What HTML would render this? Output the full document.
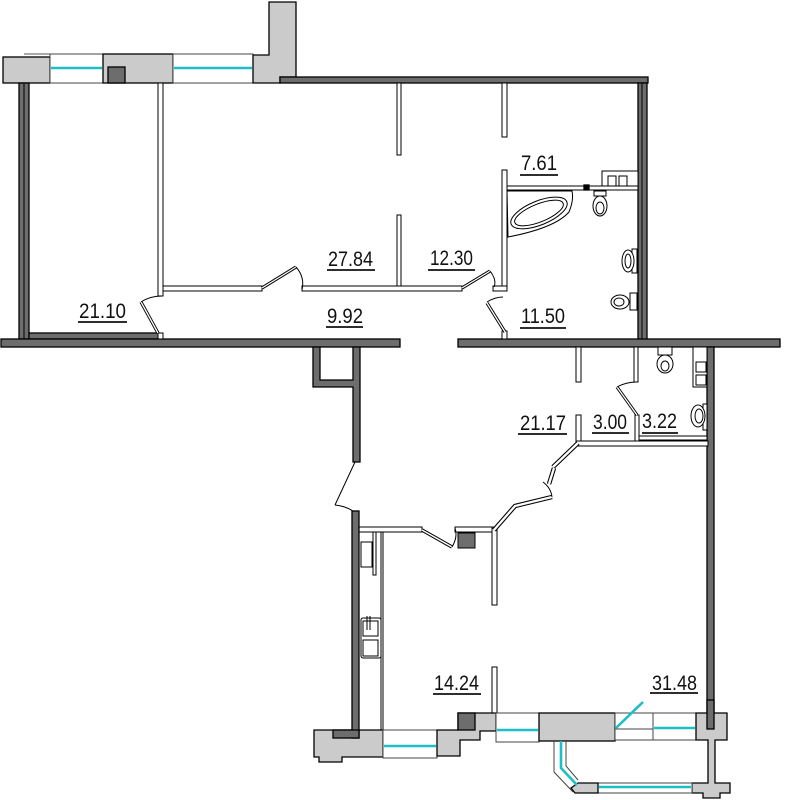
<!DOCTYPE html>
<html><head><meta charset="utf-8"><style>
html,body{margin:0;padding:0;background:#fff;}
svg{display:block;}
text{font-family:"Liberation Sans",sans-serif;font-size:21px;fill:#111;}
</style></head><body>
<svg width="785" height="800" viewBox="0 0 785 800" xmlns="http://www.w3.org/2000/svg">
<g stroke="#000" stroke-width="1.3">
<!-- top facade -->
<line x1="24" y1="54" x2="50" y2="54" stroke="#555" stroke-width="1"/>
<rect x="3" y="57" width="47" height="26" fill="#cbcbcb"/>
<rect x="50" y="54" width="53" height="29" fill="#fff" stroke="#444" stroke-width="1"/>
<rect x="103" y="54" width="70" height="29" fill="#cbcbcb"/>
<rect x="108" y="67" width="17" height="16" fill="#6d6d6d"/>
<rect x="173" y="54" width="80" height="29" fill="#fff" stroke="#444" stroke-width="1"/>
<polygon points="253,55 269,55 269,2 296,2 296,77 280,77 280,83 253,83" fill="#cbcbcb"/>
<!-- outer walls -->
<rect x="280" y="77" width="368" height="6" fill="#6d6d6d"/>
<rect x="638" y="83" width="9" height="257" fill="#6d6d6d"/>
<line x1="642" y1="83" x2="642" y2="340" stroke-width="1"/>
<rect x="19" y="83" width="10" height="256" fill="#6d6d6d"/>
<line x1="24" y1="83" x2="24" y2="339" stroke-width="1"/>
<rect x="29" y="333" width="130" height="6" fill="#6d6d6d"/>
<rect x="1" y="339" width="399" height="8" fill="#6d6d6d"/>
<rect x="458" y="339" width="322" height="8" fill="#6d6d6d"/>
<!-- upper partitions -->
<g fill="#fff" stroke-width="1">
<rect x="158" y="83" width="5" height="213"/>
<rect x="163" y="286" width="99" height="5"/>
<rect x="302" y="286" width="160" height="5"/>
<rect x="397" y="83" width="4" height="72"/>
<rect x="397" y="215" width="4" height="71"/>
<rect x="502" y="83" width="5" height="54"/>
<rect x="502" y="170" width="5" height="116"/>
<rect x="493" y="286" width="14" height="5"/>
<rect x="502" y="331" width="5" height="8"/>
<rect x="507" y="186" width="131" height="4"/>
<rect x="158" y="333" width="5" height="6"/>
</g>
<rect x="584" y="185" width="5" height="5" fill="#000"/>
</g>
<!-- doors upper -->
<g fill="none" stroke="#000">
<line x1="141" y1="302" x2="158" y2="333" stroke-width="3.2"/>
<line x1="141" y1="302" x2="158" y2="333" stroke="#fff" stroke-width="1.3"/>
<path d="M141,302 Q150,296 162,296" stroke-width="1"/>
<line x1="262" y1="288" x2="296" y2="267" stroke-width="3.2"/>
<line x1="262" y1="288" x2="296" y2="267" stroke="#fff" stroke-width="1.3"/>
<path d="M296,267 Q305,277 302,290" stroke-width="1"/>
<line x1="462" y1="288" x2="490" y2="271" stroke-width="3.2"/>
<line x1="462" y1="288" x2="490" y2="271" stroke="#fff" stroke-width="1.3"/>
<path d="M490,271 Q497,280 494,287" stroke-width="1"/>
<line x1="487" y1="303" x2="505" y2="332" stroke-width="3.2"/>
<line x1="487" y1="303" x2="505" y2="332" stroke="#fff" stroke-width="1.3"/>
<path d="M487,302 Q495,297 503,297" stroke-width="1"/>
</g>
<!-- bathroom fixtures -->
<g fill="#fff" stroke="#000" stroke-width="1">
<rect x="602" y="171" width="36" height="15"/>
<rect x="608" y="176" width="8" height="10"/>
<rect x="619" y="176" width="8" height="10"/>
<path d="M507,191 L572,191 Q574,200 569,212 Q555,228 508,237 Z"/>
<ellipse cx="539" cy="213" rx="30" ry="12" transform="rotate(-22 539 213)"/>
<ellipse cx="539" cy="213" rx="26" ry="9" transform="rotate(-22 539 213)"/>
<rect x="594" y="191" width="12" height="5"/>
<ellipse cx="600" cy="206" rx="7" ry="10"/>
<ellipse cx="600" cy="208" rx="4" ry="6"/>
<rect x="632" y="249" width="5" height="24"/>
<ellipse cx="628" cy="261" rx="6" ry="11"/>
<ellipse cx="628" cy="261" rx="3" ry="7"/>
<rect x="630" y="293" width="7" height="17"/>
<ellipse cx="620" cy="302" rx="9" ry="7"/>
<ellipse cx="619" cy="302" rx="5" ry="4"/>
</g>
<!-- lower: shaft & left wall -->
<g stroke="#000" stroke-width="1.3" fill="#6d6d6d">
<polygon points="313,347 320,347 320,380 353,380 353,347 360,347 360,462 353,462 353,387 313,387"/>
<rect x="707" y="347" width="7" height="366"/>
</g>
<g fill="none" stroke="#000">
<line x1="355" y1="462" x2="335" y2="505" stroke-width="1"/>
<path d="M335,505 Q345,506 353,511" stroke-width="1"/>
</g>
<!-- lower partitions -->
<g fill="#fff" stroke="#000" stroke-width="1">
<rect x="359" y="527" width="63" height="5"/>
<rect x="455" y="527" width="37" height="5"/>
<rect x="492" y="527" width="5" height="78"/>
<rect x="492" y="667" width="5" height="46"/>
<rect x="576" y="347" width="5" height="35"/>
<rect x="576" y="415" width="5" height="28"/>
<rect x="576" y="441" width="132" height="5"/>
<rect x="638" y="436" width="69" height="4"/>
<rect x="634" y="347" width="4" height="35"/>
<rect x="635" y="415" width="4" height="26"/>
<rect x="381" y="532" width="2" height="198"/>
</g>
<rect x="458" y="533" width="17" height="15" fill="#6d6d6d" stroke="#000" stroke-width="1"/>
<g fill="none" stroke="#000">
<polyline points="494,530 515,506 552,497" stroke-width="4.5"/>
<polyline points="494,530 515,506 552,497" stroke="#fff" stroke-width="2.3"/>
<line x1="578" y1="443" x2="553" y2="467" stroke-width="4.5"/>
<line x1="578" y1="443" x2="553" y2="467" stroke="#fff" stroke-width="2.3"/>
<line x1="554" y1="468" x2="549" y2="484" stroke-width="4.5"/>
<line x1="554" y1="468" x2="549" y2="484" stroke="#fff" stroke-width="2.3"/>
<path d="M543,482 Q551,488 552,497" stroke-width="1"/>
<line x1="422" y1="530" x2="452" y2="547" stroke-width="3.5"/>
<line x1="422" y1="530" x2="452" y2="547" stroke="#fff" stroke-width="1.5"/>
<path d="M452,547 Q458,537 455,528" stroke-width="1"/>
<line x1="617" y1="387" x2="637" y2="415" stroke-width="3.2"/>
<line x1="617" y1="387" x2="637" y2="415" stroke="#fff" stroke-width="1.3"/>
<path d="M617,387 Q626,382 637,382" stroke-width="1"/>
</g>
<!-- 3.22 fixtures and kitchen -->
<g fill="#fff" stroke="#000" stroke-width="1">
<rect x="658" y="347" width="14" height="8"/>
<ellipse cx="665" cy="364" rx="8" ry="9"/>
<ellipse cx="665" cy="366" rx="4" ry="5"/>
<rect x="693" y="347" width="14" height="40"/>
<rect x="696" y="362" width="10" height="10"/>
<rect x="696" y="375" width="10" height="10"/>
<rect x="703" y="404" width="4" height="26"/>
<ellipse cx="698" cy="416" rx="7" ry="11"/>
<ellipse cx="699" cy="416" rx="4" ry="7"/>
<rect x="361" y="542" width="11" height="25"/>
<rect x="373" y="532" width="3" height="43"/>
<rect x="361" y="618" width="20" height="40" rx="2"/>
<rect x="363" y="621" width="15" height="15"/>
<rect x="363" y="640" width="15" height="16"/>
<line x1="367" y1="616" x2="367" y2="630"/>
<line x1="370" y1="616" x2="370" y2="630"/>
</g>
<!-- bottom facade -->
<g stroke="#000" stroke-width="1.3">
<polygon points="314,730 383,730 383,757 342,757 342,762 319,762 319,757 314,757" fill="#cbcbcb"/>
<rect x="352" y="511" width="7" height="227" fill="#6d6d6d"/>
<rect x="333" y="730" width="26" height="8" fill="#6d6d6d"/>
<rect x="383" y="730" width="54" height="28" fill="#fff" stroke="#444" stroke-width="1"/>
<polygon points="437,730 458,730 458,713 496,713 496,731 480,731 480,740 460,740 460,756 437,756" fill="#cbcbcb"/>
<rect x="458" y="713" width="17" height="17" fill="#6d6d6d"/>
<rect x="496" y="713" width="43" height="29" fill="#fff" stroke="#444" stroke-width="1"/>
<rect x="539" y="713" width="76" height="28" fill="#cbcbcb"/>
<rect x="615" y="713" width="81" height="27" fill="#fff" stroke="#444" stroke-width="1"/>
<line x1="653" y1="713" x2="653" y2="740" stroke="#444" stroke-width="1"/>
<line x1="615" y1="729" x2="653" y2="729" stroke="#444" stroke-width="1"/>
<polygon points="696,713 727,713 727,740 715,740 715,783 730,783 730,793 720,793 720,798 703,798 703,793 692,793 692,783 708,783 708,740 696,740" fill="#cbcbcb"/>
<rect x="707" y="700" width="7" height="29" fill="#6d6d6d"/>
<rect x="598" y="783" width="94" height="10" fill="#fff" stroke="#444" stroke-width="1"/>
<polygon points="578,783 598,783 598,793 575,793 571,788" fill="#cbcbcb"/>
</g>
<g fill="none" stroke="#444" stroke-width="1">
<polyline points="554,741 554,772 573,792"/>
<polyline points="566,741 566,766 578,780"/>
</g>
<g stroke="#1cc0c4" stroke-width="2.6" fill="none">
<line x1="51" y1="68" x2="102" y2="68"/>
<line x1="174" y1="68" x2="252" y2="68"/>
<line x1="384" y1="746" x2="436" y2="746"/>
<line x1="497" y1="730" x2="538" y2="730"/>
<line x1="654" y1="728" x2="695" y2="728"/>
<line x1="616" y1="728" x2="643" y2="702"/>
<polyline points="561,741 561,768 577,785"/>
<line x1="599" y1="787" x2="691" y2="787"/>
</g>
<!-- labels -->
<g>
<text x="79" y="318" textLength="47" lengthAdjust="spacingAndGlyphs">21.10</text>
<text x="328" y="266" textLength="45" lengthAdjust="spacingAndGlyphs">27.84</text>
<text x="430" y="265" textLength="43" lengthAdjust="spacingAndGlyphs">12.30</text>
<text x="327" y="323" textLength="36" lengthAdjust="spacingAndGlyphs">9.92</text>
<text x="521" y="170" textLength="36" lengthAdjust="spacingAndGlyphs">7.61</text>
<text x="521" y="323" textLength="44" lengthAdjust="spacingAndGlyphs">11.50</text>
<text x="520" y="430" textLength="46" lengthAdjust="spacingAndGlyphs">21.17</text>
<text x="593" y="429" textLength="34" lengthAdjust="spacingAndGlyphs">3.00</text>
<text x="642" y="428" textLength="35" lengthAdjust="spacingAndGlyphs">3.22</text>
<text x="434" y="690" textLength="45" lengthAdjust="spacingAndGlyphs">14.24</text>
<text x="652" y="690" textLength="45" lengthAdjust="spacingAndGlyphs">31.48</text>
</g>
<g stroke="#111" stroke-width="1.8">
<line x1="78" y1="322" x2="127" y2="322"/>
<line x1="327" y1="270" x2="375" y2="270"/>
<line x1="428" y1="270" x2="475" y2="270"/>
<line x1="326" y1="327" x2="363" y2="327"/>
<line x1="520" y1="175" x2="558" y2="175"/>
<line x1="520" y1="328" x2="566" y2="328"/>
<line x1="518" y1="434" x2="567" y2="434"/>
<line x1="592" y1="433" x2="629" y2="433"/>
<line x1="642" y1="433" x2="678" y2="433"/>
<line x1="433" y1="694" x2="481" y2="694"/>
<line x1="650" y1="693" x2="698" y2="693"/>
</g>
</svg>
</body></html>
